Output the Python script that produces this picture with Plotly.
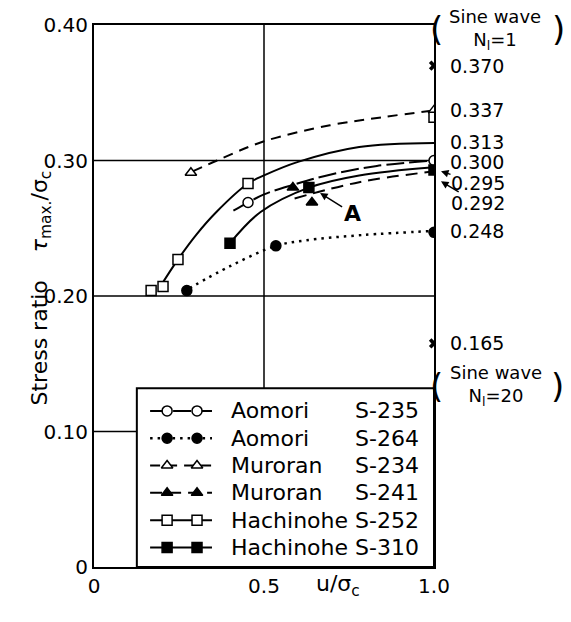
import plotly.graph_objects as go

# ---------------- data ----------------
# measured points
s235_x = [0.453, 1.0];               s235_y = [0.269, 0.300]          # Aomori S-235 (open circle)
s264_x = [0.273, 0.535, 1.0];        s264_y = [0.204, 0.237, 0.247]   # Aomori S-264 (filled circle)
s234_x = [0.285, 1.0];               s234_y = [0.291, 0.337]          # Muroran S-234 (open triangle)
s241_x = [0.585, 0.641];             s241_y = [0.280, 0.269]          # Muroran S-241 (filled triangle)
s252_x = [0.168, 0.203, 0.247, 0.453, 1.0]
s252_y = [0.204, 0.207, 0.227, 0.283, 0.332]                          # Hachinohe S-252 (open square)
s310_x = [0.40, 0.632, 1.0];         s310_y = [0.239, 0.280, 0.293]   # Hachinohe S-310 (filled square)
sine_x = [1.0, 1.0];                 sine_y = [0.370, 0.165]          # sine wave Nl=1, Nl=20

# fitted curves
c235_x = [0.41, 0.453, 0.50, 0.585, 0.685, 0.832, 1.0]
c235_y = [0.263, 0.269, 0.275, 0.282, 0.289, 0.296, 0.300]
c264_x = [0.262, 0.40, 0.535, 0.62, 0.79, 1.0]
c264_y = [0.203, 0.222, 0.237, 0.241, 0.245, 0.248]
c234_x = [0.29, 0.362, 0.498, 0.694, 0.85, 1.0]
c234_y = [0.292, 0.300, 0.314, 0.326, 0.332, 0.337]
c241_x = [0.59, 0.78, 1.0]
c241_y = [0.272, 0.284, 0.292]
c252_x = [0.19, 0.247, 0.30, 0.36, 0.453, 0.50, 0.60, 0.78, 1.0]
c252_y = [0.205, 0.227, 0.245, 0.262, 0.283, 0.289, 0.299, 0.310, 0.313]
c310_x = [0.40, 0.49, 0.632, 0.78, 1.0]
c310_y = [0.239, 0.262, 0.280, 0.289, 0.295]

end_labels = ["0.370", "0.337", "0.313", "0.300", "0.295", "0.292", "0.248", "0.165"]
end_values = [0.370, 0.337, 0.313, 0.300, 0.295, 0.292, 0.248, 0.165]

legend_names = ["Aomori", "Aomori", "Muroran", "Muroran", "Hachinohe", "Hachinohe"]
legend_codes = ["S-235", "S-264", "S-234", "S-241", "S-252", "S-310"]

x_ticks = [0, 0.5, 1.0];            x_ticktext = ["0", "0.5", "1.0"]
y_ticks = [0, 0.1, 0.2, 0.3, 0.4];  y_ticktext = ["0", "0.10", "0.20", "0.30", "0.40"]
X_RANGE = [0, 1.0]
Y_RANGE = [0, 0.4]

# ---------------- styles ----------------
FONT = "DejaVu Sans, sans-serif"
K = "black"
styles = [
    dict(cx=c235_x, cy=c235_y, px=s235_x, py=s235_y, dash="18px,5px", sym="circle", fill="white"),
    dict(cx=c264_x, cy=c264_y, px=s264_x, py=s264_y, dash="2.5px,5px", sym="circle", fill=K),
    dict(cx=c234_x, cy=c234_y, px=s234_x, py=s234_y, dash="10px,7px", sym="triangle-up", fill="white"),
    dict(cx=c241_x, cy=c241_y, px=s241_x, py=s241_y, dash="12px,7px", sym="triangle-up", fill=K),
    dict(cx=c252_x, cy=c252_y, px=s252_x, py=s252_y, dash="solid", sym="square", fill="white"),
    dict(cx=c310_x, cy=c310_y, px=s310_x, py=s310_y, dash="solid", sym="square", fill=K),
]

fig = go.Figure()
for s in styles:
    w = 2.5 if s["dash"].startswith("2.5") else 2
    fig.add_trace(go.Scatter(x=s["cx"], y=s["cy"], mode="lines",
                             line=dict(color=K, width=w, dash=s["dash"], shape="spline", smoothing=1.0),
                             showlegend=False, hoverinfo="skip"))
for s in styles:
    fig.add_trace(go.Scatter(x=s["px"], y=s["py"], mode="markers",
                             marker=dict(symbol=s["sym"], size=10, color=s["fill"],
                                         line=dict(color=K, width=1.5)),
                             showlegend=False, hoverinfo="skip"))
fig.add_trace(go.Scatter(x=sine_x, y=sine_y, mode="markers",
                         marker=dict(symbol="x", size=9, color=K, line=dict(width=0)),
                         showlegend=False, hoverinfo="skip"))

# ---------------- grid lines (at the interior tick values) ----------------
for xv in x_ticks:
    if X_RANGE[0] < xv < X_RANGE[1]:
        fig.add_shape(type="line", xref="x", yref="paper", x0=xv, x1=xv, y0=0, y1=1,
                      line=dict(color=K, width=1.5), layer="below")
for yv in y_ticks:
    if Y_RANGE[0] < yv < Y_RANGE[1]:
        fig.add_shape(type="line", xref="paper", yref="y", x0=0, x1=1, y0=yv, y1=yv,
                      line=dict(color=K, width=1.5), layer="below")

# ---------------- custom legend (overlay axis pair in plot-fraction units) ----------------
fig.add_shape(type="rect", xref="paper", yref="paper", x0=0.126, x1=1.0, y0=0.0, y1=0.330,
              fillcolor="white", line=dict(color=K, width=2), layer="below")
row0, step = 0.288, 0.0504
for i, s in enumerate(styles):
    yy = row0 - i * step
    w = 2.5 if s["dash"].startswith("2.5") else 2
    fig.add_trace(go.Scatter(x=[0.165, 0.347], y=[yy, yy], mode="lines", xaxis="x2", yaxis="y2",
                             line=dict(color=K, width=w, dash=s["dash"]),
                             showlegend=False, hoverinfo="skip"))
    fig.add_trace(go.Scatter(x=[0.215, 0.303], y=[yy, yy], mode="markers", xaxis="x2", yaxis="y2",
                             marker=dict(symbol=s["sym"], size=10, color=s["fill"],
                                         line=dict(color=K, width=1.5)),
                             showlegend=False, hoverinfo="skip"))
    fig.add_annotation(x=0.40, y=yy, xref="paper", yref="paper", text=legend_names[i],
                       showarrow=False, xanchor="left", yanchor="middle", borderpad=0,
                       font=dict(family=FONT, size=22, color=K))
    fig.add_annotation(x=0.765, y=yy, xref="paper", yref="paper", text=legend_codes[i],
                       showarrow=False, xanchor="left", yanchor="middle", borderpad=0,
                       font=dict(family=FONT, size=22, color=K))

# ---------------- right-hand value labels ----------------
label_shift = {"0.313": 1, "0.300": -1}
for lab, v in zip(end_labels, end_values):
    if lab == "0.295":
        fig.add_annotation(x=1.0, y=v, text=lab, xshift=7, yshift=-4, ax=37, ay=12,
                           showarrow=True, arrowhead=2, arrowsize=1, arrowwidth=1.5, arrowcolor=K,
                           borderpad=0, font=dict(family=FONT, size=19, color=K))
    elif lab == "0.292":
        fig.add_annotation(x=1.0, y=v, text=lab, xshift=7, yshift=-10, ax=37, ay=22,
                           showarrow=True, arrowhead=2, arrowsize=1, arrowwidth=1.5, arrowcolor=K,
                           borderpad=0, font=dict(family=FONT, size=19, color=K))
    else:
        fig.add_annotation(x=1.0, y=v, text=lab, xshift=15, yshift=label_shift.get(lab, 0),
                           xanchor="left", showarrow=False, borderpad=0,
                           font=dict(family=FONT, size=19, color=K))

# "A" marker label
fig.add_annotation(x=0.665, y=0.276, text="<b>A</b>", ax=32, ay=20, showarrow=True,
                   arrowhead=2, arrowsize=1, arrowwidth=1.5, arrowcolor=K,
                   font=dict(family=FONT, size=22, color=K))

# Sine wave notes
def ppx(px):  # pixel -> paper x
    return (px - 94) / 340.0
def ppy(py):  # pixel -> paper y
    return (567 - py) / 542.0

notes = [
    ("Sine wave<br>N<sub>l</sub>=1", 495, 30, 18), ("(", 436, 29, 34), (")", 558, 29, 34),
    ("Sine wave<br>N<sub>l</sub>=20", 496, 385, 18), ("(", 436, 386, 34), (")", 557, 386, 34),
]
for t, px, py, fs in notes:
    fig.add_annotation(x=ppx(px), y=ppy(py), xref="paper", yref="paper", text=t, showarrow=False,
                       xanchor="center", yanchor="middle", borderpad=0, align="center",
                       font=dict(family=FONT, size=fs, color=K))

# axis titles
fig.add_annotation(x=ppx(24), y=ppy(288), xref="paper", yref="paper", textangle=-90,
                   text="Stress ratio    <i>τ</i><sub>max.</sub>/σ<sub>c</sub>", showarrow=False,
                   font=dict(family=FONT, size=22, color=K))
fig.add_annotation(x=ppx(362), y=ppy(602), xref="paper", yref="paper",
                   text="u/σ<sub>c</sub>", showarrow=False,
                   font=dict(family=FONT, size=22, color=K))

axis_common = dict(showline=True, linewidth=2, linecolor=K, mirror=True, ticks="",
                   showgrid=False, zeroline=False,
                   tickfont=dict(family=FONT, size=20, color=K))
fig.update_layout(
    width=571, height=622, margin=dict(l=94, r=137, t=25, b=55),
    paper_bgcolor="white", plot_bgcolor="white", showlegend=False,
    xaxis=dict(range=X_RANGE, tickvals=x_ticks, ticktext=x_ticktext, **axis_common),
    yaxis=dict(range=Y_RANGE, tickvals=y_ticks, ticktext=y_ticktext, **axis_common),
    xaxis2=dict(range=[0, 1], overlaying="x", visible=False),
    yaxis2=dict(range=[0, 1], overlaying="y", visible=False),
)

fig.write_html("out.html")
